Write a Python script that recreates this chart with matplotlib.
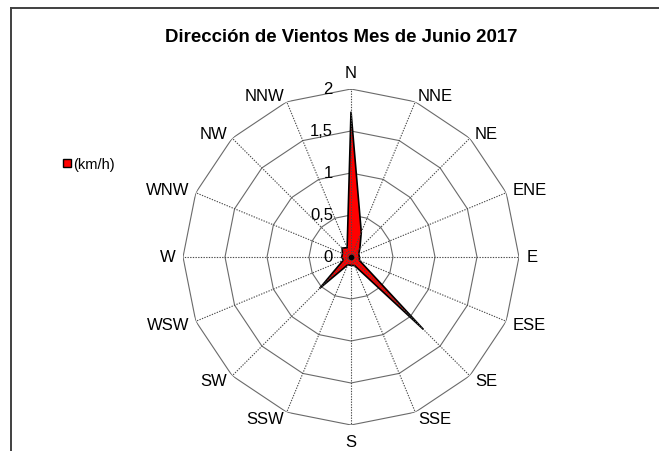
import numpy as np
import matplotlib
matplotlib.use("Agg")
import matplotlib.pyplot as plt
from matplotlib.lines import Line2D

# ---- data ----
directions = ["N", "NNE", "NE", "ENE", "E", "ESE", "SE", "SSE",
              "S", "SSW", "SW", "WSW", "W", "WNW", "NW", "NNW"]
speeds = [1.73, 0.32, 0.15, 0.10, 0.10, 0.11, 1.22, 0.11,
          0.10, 0.10, 0.53, 0.10, 0.11, 0.11, 0.15, 0.12]
ring_values = [0.5, 1.0, 1.5, 2.0]
radial_labels = ["0", "0,5", "1", "1,5", "2"]
radial_positions = [0, 0.5, 1.0, 1.5, 2.0]
title = "Dirección de Vientos Mes de Junio 2017"
series_name = "(km/h)"

plt.rcParams['font.family'] = ['Liberation Sans', 'DejaVu Sans']

W, H = 659, 452
fig = plt.figure(figsize=(W / 100, H / 100), dpi=100)

cx, cy, R = 351, 258, 168
ax = fig.add_axes([(cx - R) / W, (H - cy - R) / H, 2 * R / W, 2 * R / H],
                  projection='polar')
ax.set_theta_zero_location('N')
ax.set_theta_direction(-1)
ax.set_ylim(0, 2)
ax.grid(False)
ax.spines['polar'].set_visible(False)
ax.set_xticks([])
ax.set_yticks([])
ax.patch.set_alpha(0)

n = len(directions)
theta = np.arange(n) * 2 * np.pi / n
theta_closed = np.append(theta, theta[0])

# polygon rings
for rv in ring_values:
    ax.plot(theta_closed, np.full(n + 1, rv), color='#6a6a6a', lw=0.8,
            zorder=1)

# data polygon
vals_closed = np.append(speeds, speeds[0])
ax.fill(theta_closed, vals_closed, facecolor='#ff0000', edgecolor='black',
        lw=1.2, joinstyle='miter', zorder=2)

# spokes (dotted)
for t in theta:
    ax.plot([t, t], [0, 2], color='#4a4a4a', lw=0.8, ls=(0, (1.2, 1.2)),
            zorder=3)
ax.plot([0], [0], marker='o', ms=3, color='black', zorder=4)

# direction labels (Excel-like placement outside the outer ring)
rmax = ring_values[-1]
for t, lab in zip(theta, directions):
    ux, uy = np.sin(t), np.cos(t)
    if abs(ux) < 1e-6:
        ha = 'center'
        va = 'bottom' if uy > 0 else 'top'
        g = 9.0
    else:
        ha = 'left' if ux > 0 else 'right'
        va = 'center'
        g = 7.2
    ax.annotate(lab, xy=(t, rmax), xytext=(ux * g, uy * g),
                textcoords='offset pixels', ha=ha, va=va, fontsize=12,
                annotation_clip=False)

# radial labels
for rp, rl in zip(radial_positions, radial_labels):
    ax.annotate(rl, xy=(0, rp), xytext=(-18, 0), textcoords='offset pixels',
                ha='right', va='center', fontsize=12, annotation_clip=False)

# title
fig.text(341.5 / W, 1 - 42 / H, title, ha='center', va='baseline',
         fontsize=13.4, fontweight='bold')

# legend
handle = Line2D([], [], marker='s', ls='none', mfc='#ff0000', mec='black',
                mew=1.0, ms=6.2)
fig.legend([handle], [series_name], loc='center left',
           bbox_to_anchor=(62 / W, 1 - 165 / H), frameon=False,
           fontsize=10.5, handlelength=0.7, handletextpad=0.05,
           borderpad=0, borderaxespad=0)

# chart-area frame lines (top and left)
fig.add_artist(Line2D([10.5 / W, 1], [1 - 8.5 / H, 1 - 8.5 / H],
                      color='#404040', lw=1.4, transform=fig.transFigure))
fig.add_artist(Line2D([10.5 / W, 10.5 / W], [0, 1 - 8.5 / H],
                      color='#404040', lw=1.4, transform=fig.transFigure))

fig.savefig('out.png', dpi=100)
